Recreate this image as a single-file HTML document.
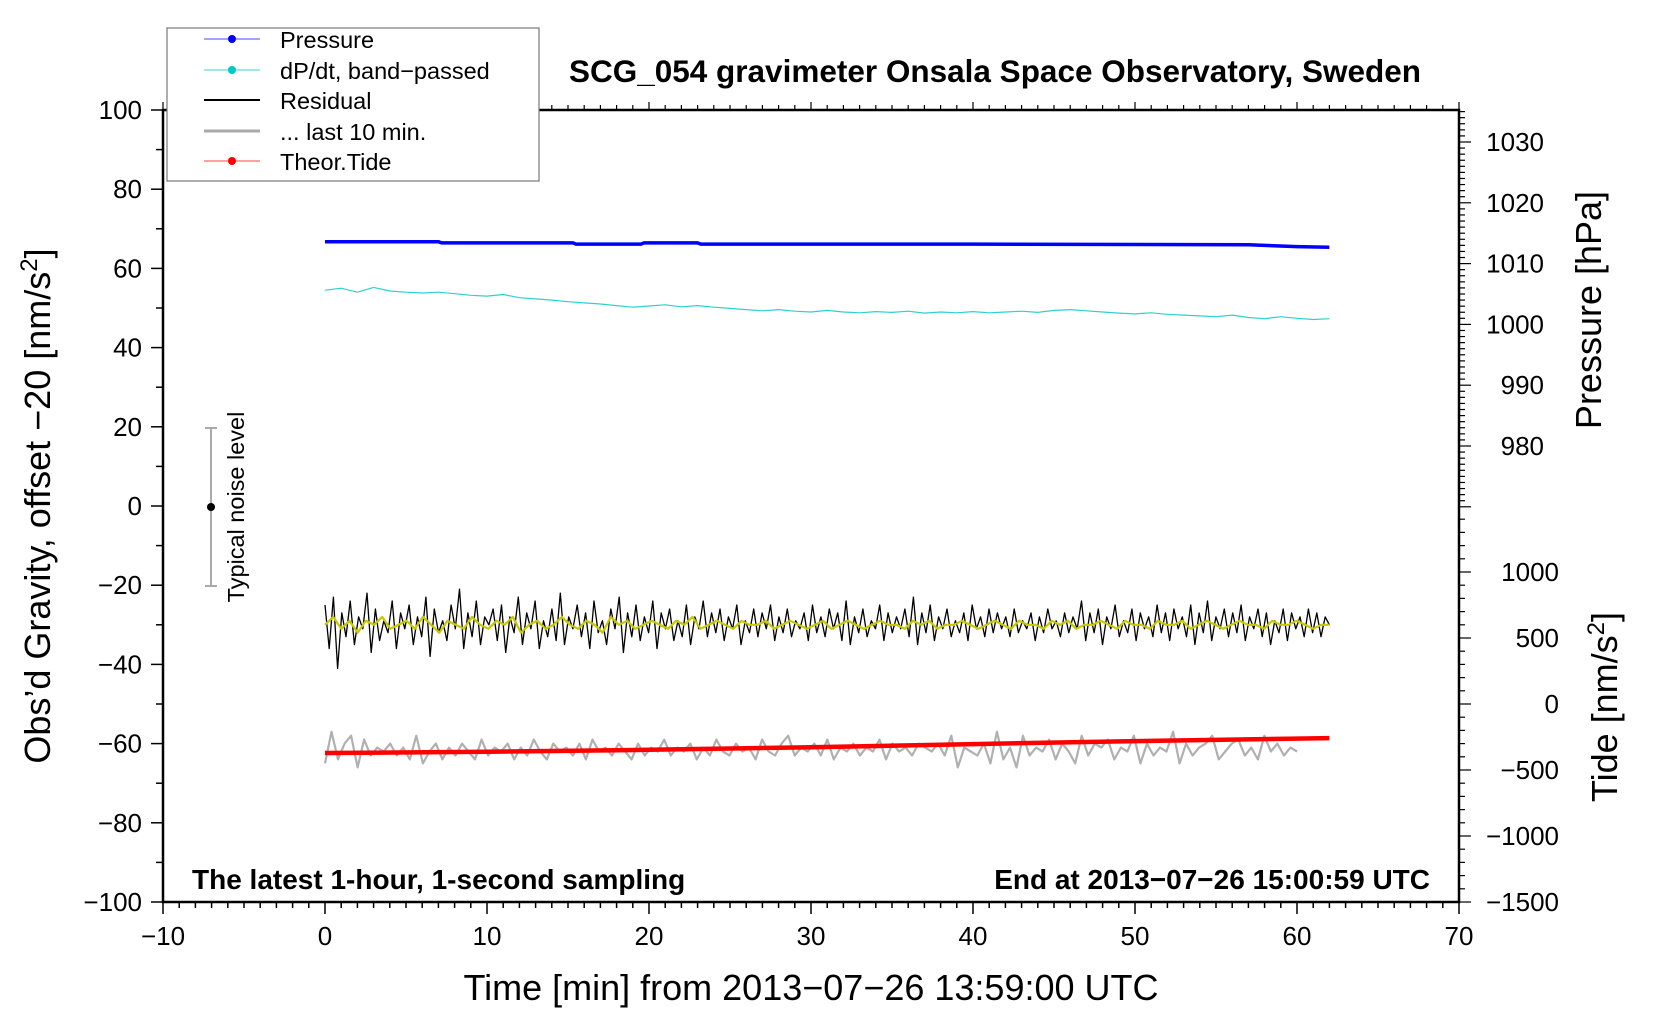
<!DOCTYPE html>
<html><head><meta charset="utf-8"><style>
html,body{margin:0;padding:0;background:#fff;}
svg{display:block;font-family:"Liberation Sans",Arial,sans-serif;}
</style></head><body>
<svg id="chart" width="1660" height="1020" viewBox="0 0 1660 1020">
<g id="axes"></g>
<g id="series"></g>
<text x="995" y="82" text-anchor="middle" font-size="31.5" font-weight="bold">SCG_054 gravimeter Onsala Space Observatory, Sweden</text>
<text x="192" y="889" font-size="28" font-weight="bold">The latest 1-hour, 1-second sampling</text>
<text x="1430" y="889" text-anchor="end" font-size="28" font-weight="bold">End at 2013−07−26 15:00:59 UTC</text>
<text x="811" y="1000" text-anchor="middle" font-size="36">Time [min] from 2013−07−26 13:59:00 UTC</text>
<text transform="translate(50,506) rotate(-90)" text-anchor="middle" font-size="36">Obs’d Gravity, offset −20 [nm/s<tspan font-size="24" dy="-13">2</tspan><tspan dy="13">]</tspan></text>
<text transform="translate(1601,310) rotate(-90)" text-anchor="middle" font-size="36">Pressure [hPa]</text>
<text transform="translate(1617,707) rotate(-90)" text-anchor="middle" font-size="36">Tide [nm/s<tspan font-size="24" dy="-13">2</tspan><tspan dy="13">]</tspan></text>
<g>
<line x1="211" y1="428" x2="211" y2="586" stroke="#aaa" stroke-width="2"/>
<line x1="205" y1="428" x2="217" y2="428" stroke="#aaa" stroke-width="2"/>
<line x1="205" y1="586" x2="217" y2="586" stroke="#aaa" stroke-width="2"/>
<circle cx="211" cy="507" r="4" fill="#000"/>
<text transform="translate(244,507) rotate(-90)" text-anchor="middle" font-size="23.5">Typical noise level</text>
</g>
<g id="legend">
<rect x="167" y="28" width="372" height="153" fill="#fff" stroke="#777" stroke-width="1.2"/>
<g><line x1="204" y1="39" x2="260" y2="39" stroke="#4444ff" stroke-width="1"/><circle cx="232" cy="39" r="4" fill="#0000ff"/><text x="280" y="48" font-size="23.5">Pressure</text></g>
<g><line x1="204" y1="70" x2="260" y2="70" stroke="#40d0d0" stroke-width="1"/><circle cx="232" cy="70" r="4" fill="#00c8c8"/><text x="280" y="79" font-size="23.5">dP/dt, band−passed</text></g>
<g><line x1="204" y1="100" x2="260" y2="100" stroke="#000" stroke-width="2"/><text x="280" y="109" font-size="23.5">Residual</text></g>
<g><line x1="204" y1="131" x2="260" y2="131" stroke="#aaa" stroke-width="3"/><text x="280" y="140" font-size="23.5">... last 10 min.</text></g>
<g><line x1="204" y1="161" x2="260" y2="161" stroke="#ff4444" stroke-width="1"/><circle cx="232" cy="161" r="4" fill="#ff0000"/><text x="280" y="170" font-size="23.5">Theor.Tide</text></g>
</g>
</svg>
<script>
const xTicks=[-10,0,10,20,30,40,50,60,70];
const yTicks=[100,80,60,40,20,0,-20,-40,-60,-80,-100];
const pTicks=[1030,1020,1010,1000,990,980];
const tideTicks=[1000,500,0,-500,-1000,-1500];
const pressureT=[0,7,7.2,15.3,15.5,19.5,19.7,23,23.2,40,57,60,62];
const pressureV=[1013.6,1013.6,1013.4,1013.4,1013.2,1013.2,1013.4,1013.4,1013.2,1013.2,1013.1,1012.8,1012.7];
const dpdtV=[54.5,55,54,55.2,54.3,54,53.8,54,53.6,53.2,53,53.4,52.6,52.3,52,51.6,51.3,51,50.6,50.2,50.5,50.8,50.3,50.6,50.2,49.9,49.6,49.3,49.6,49.2,49,49.4,49,48.8,49.1,48.9,49.2,48.7,49,48.8,49.1,48.8,49,49.2,48.9,49.4,49.6,49.3,49,48.7,48.5,48.8,48.4,48.2,48,47.8,48.2,47.6,47.3,47.8,47.4,47.1,47.3];
const residualV=[-25,-36,-23,-41,-27,-33,-24,-35,-28,-31,-22,-37,-26,-34,-29,-32,-24,-36,-27,-31,-25,-35,-28,-33,-23,-38,-26,-32,-29,-34,-25,-31,-21,-36,-27,-33,-24,-35,-28,-30,-26,-34,-25,-37,-28,-32,-23,-35,-27,-31,-24,-36,-29,-33,-26,-34,-22,-35,-28,-31,-25,-33,-27,-36,-24,-32,-29,-35,-26,-31,-23,-37,-27,-33,-25,-34,-28,-32,-24,-36,-27,-31,-26,-34,-29,-33,-25,-35,-28,-31,-24,-33,-27,-32,-26,-34,-28,-31,-25,-35,-29,-32,-26,-33,-27,-31,-25,-34,-28,-32,-26,-33,-29,-31,-27,-34,-25,-32,-28,-33,-26,-31,-27,-34,-24,-35,-28,-32,-26,-33,-29,-31,-25,-34,-27,-32,-28,-31,-26,-33,-23,-35,-27,-32,-25,-34,-28,-31,-26,-33,-29,-32,-27,-34,-25,-31,-28,-33,-26,-32,-27,-31,-28,-33,-26,-32,-29,-31,-27,-34,-28,-32,-26,-31,-29,-33,-27,-32,-28,-31,-24,-34,-27,-32,-26,-35,-28,-31,-25,-33,-29,-32,-26,-34,-27,-31,-28,-33,-25,-32,-27,-34,-26,-31,-28,-33,-25,-35,-27,-32,-24,-34,-28,-31,-26,-33,-27,-32,-25,-34,-28,-31,-26,-33,-27,-35,-29,-32,-26,-34,-27,-31,-28,-33,-26,-32,-27,-33,-28,-30];
const smoothV=[-30,-28,-31,-29,-32,-29,-30,-28,-31,-30,-29,-31,-28,-30,-32,-29,-30,-31,-28,-30,-31,-29,-30,-28,-32,-30,-29,-31,-30,-28,-30,-31,-29,-30,-32,-28,-30,-29,-31,-30,-29,-30,-31,-29,-30,-28,-31,-30,-29,-30,-31,-29,-30,-30,-29,-31,-30,-29,-30,-31,-30,-29,-31,-30,-29,-30,-31,-30,-29,-30,-30,-31,-29,-30,-29,-31,-30,-30,-29,-30,-31,-30,-29,-30,-31,-29,-30,-30,-31,-29,-30,-29,-31,-30,-30,-29,-30,-31,-29,-30,-30,-31,-29,-30,-30,-29,-31,-30,-29,-30,-31,-30,-29,-30,-30,-31,-29,-30,-30,-29,-30,-31,-30,-30];
const last10V=[-65,-57,-64,-60,-58,-66,-59,-63,-61,-62,-60,-63,-61,-64,-58,-65,-62,-60,-64,-61,-63,-60,-62,-64,-59,-63,-61,-62,-60,-64,-61,-63,-59,-62,-64,-60,-62,-61,-63,-60,-64,-59,-62,-61,-63,-60,-62,-64,-60,-63,-61,-62,-59,-63,-61,-62,-60,-64,-61,-63,-59,-62,-63,-60,-62,-61,-64,-59,-62,-63,-60,-58,-63,-61,-62,-60,-63,-59,-64,-61,-62,-60,-63,-61,-62,-59,-64,-60,-62,-61,-63,-60,-61,-62,-60,-63,-58,-66,-61,-62,-63,-60,-65,-57,-64,-61,-66,-58,-63,-61,-62,-59,-64,-60,-62,-65,-58,-63,-60,-61,-59,-64,-61,-62,-58,-65,-60,-63,-61,-62,-57,-65,-60,-63,-61,-60,-58,-64,-62,-60,-59,-63,-61,-64,-58,-62,-60,-63,-61,-62];
const tideT=[0,10,20,30,40,50,62];
const tideV=[-371,-362,-347,-327,-304,-281,-258];

const NS='http://www.w3.org/2000/svg';
const L=163,R=1459,T=110,B=902;
const xS=t=>L+(t+10)*(R-L)/80;
const yS=v=>B-(v+100)*(B-T)/200;
const yP=p=>142+(1030-p)*6.08;
const yTd=v=>704-v*0.132;
const axes=document.getElementById('axes'), ser=document.getElementById('series');
function mk(tag,attrs,parent){const e=document.createElementNS(NS,tag);for(const k in attrs)e.setAttribute(k,attrs[k]);parent.appendChild(e);return e;}
function line(x1,y1,x2,y2,w){return mk('line',{x1,y1,x2,y2,stroke:'#000','stroke-width':w||1.5},axes);}
const fr=mk('rect',{x:L,y:T,width:R-L,height:B-T,fill:'none',stroke:'#000','stroke-width':2.5},axes);


for(let t=-10;t<=70;t++){const x=xS(t);const maj=t%10===0;line(x,B,x,B+(maj?12:6));line(x,T,x,T-(maj?8:5),1.2);}
xTicks.forEach(t=>{const e=mk('text',{x:xS(t),y:945,'text-anchor':'middle','font-size':26},axes);e.textContent=String(t).replace('-','−');

});
for(let v=-100;v<=100;v+=10){const y=yS(v);line(L,y,L-(v%20===0?12:7),y);}
yTicks.forEach(v=>{const e=mk('text',{x:142,y:yS(v)+9,'text-anchor':'end','font-size':26},axes);e.textContent=String(v).replace('-','−');

});
for(let p=1035;p>=970;p--){const y=yP(p);line(R,y,R+(p%10===0?12:6),y,1.2);}
pTicks.forEach(p=>{const e=mk('text',{x:1544,y:yP(p)+9,'text-anchor':'end','font-size':26},axes);e.textContent=p;

});
for(let v=1400;v>=-1500;v-=100){const y=yTd(v);line(R,y,R+(v%500===0?12:6),y,1.2);}
tideTicks.forEach(v=>{const e=mk('text',{x:1559,y:yTd(v)+9,'text-anchor':'end','font-size':26},axes);e.textContent=String(v).replace('-','−');

});
function path(ts,vs,ys,color,w,name){let d='';ts.forEach((t,i)=>{d+=(i?'L':'M')+xS(t).toFixed(1)+','+ys(vs[i]).toFixed(1);});
const e=mk('path',{d,fill:'none',stroke:color,'stroke-width':w,'stroke-linejoin':'round'},ser);

}
const tEven=(n,end)=>Array.from({length:n},(_,i)=>i*end/(n-1));
path(tEven(last10V.length,60),last10V,yS,'#b0b0b0',2.2,'last-10-min-line');
path(tideT,tideV,yTd,'#ff0000',4.5,'theoretical-tide-line');
path(tEven(residualV.length,62),residualV,yS,'#000',1.3,'residual-line');
path(tEven(smoothV.length,62),smoothV,yS,'#c8c800',2.2,'residual-smoothed-line');
path(tEven(dpdtV.length,62),dpdtV,yS,'#30d0d0',1.2,'dpdt-line');
path(pressureT,pressureV,yP,'#0000ff',3.5,'pressure-line');
</script>
</body></html>
